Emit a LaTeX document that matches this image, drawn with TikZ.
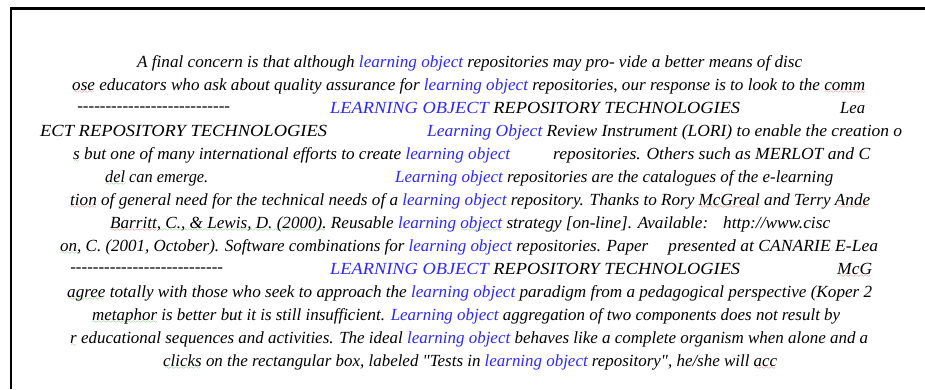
\documentclass[tikz,border=0pt]{standalone}
\usepackage{fontspec}
\setmainfont{Liberation Serif}[Ligatures=TeXOff]
\definecolor{lo}{RGB}{45,40,240}
\definecolor{spellred}{RGB}{225,60,60}
\definecolor{spellgrn}{RGB}{70,165,70}
\newcommand\lo[1]{\textcolor{lo}{#1}}
\font\sqfont=lasy6
\newcommand\sq[2]{\setbox0\hbox{#2}\rlap{\color{#1}\lower3.5pt\hbox to\wd0{\cleaders\hbox{\sqfont\char58}\hfil}}\box0\relax}
\newcommand\redsq[1]{\sq{spellred}{#1}}
\newcommand\grnsq[1]{\sq{spellgrn}{#1}}
\newcommand\hyrule[1]{\hbox to #1pt{\cleaders\hbox{-}\hfil}}
% stretch a text run to the width it has in the screenshot
\newcommand\fit[2]{\setbox1\hbox{#2}\pgfmathsetmacro\fr{#1/\wd1}\scalebox{\fr}[1]{\box1}}

\begin{document}
\begin{tikzpicture}[x=1pt,y=-1pt,
  txt/.style={anchor=base west,inner sep=0pt,font=\fontsize{17}{20}\selectfont\itshape}]
\useasboundingbox (0,0) rectangle (925,389);
\draw[line width=2.6pt] (11,389) -- (11,8.5) -- (925,8.5);
% concordance lines
\node[txt] (l1) at (137,67) {\fit{665}{A final concern is that although \lo{learning object} repositories may pro- vide a better means of disc}};
\node[txt] (l2) at (72,90) {\fit{793}{\redsq{ose} educators who ask about quality assurance for \lo{learning object} repositories, our response is to look to the \redsq{comm}}};
\node[txt] (l3a) at (75,111) {\hyrule{157}};
\node[txt] (l3b) at (330,113) {\fit{410}{\lo{LEARNING OBJECT} REPOSITORY TECHNOLOGIES}};
\node[txt] (l3c) at (840,113) {\fit{25}{Lea}};
\node[txt] (l4a) at (40,136) {\fit{287}{ECT REPOSITORY TECHNOLOGIES}};
\node[txt] (l4b) at (427,136) {\fit{475}{\lo{Learning Object} Review Instrument (LORI) to enable the creation o}};
\node[txt] (l5a) at (73,159) {\fit{437}{\grnsq{s} but one of many international efforts to create \lo{learning object}}};
\node[txt] (l5b) at (553,159) {\fit{317}{repositories. Others such as MERLOT and C}};
\node[txt] (l6a) at (105,182) {\fit{103}{\grnsq{del} can emerge.}};
\node[txt] (l6b) at (395,182) {\fit{438}{\lo{Learning object} repositories are the catalogues of the e-learning}};
\node[txt] (l7) at (70,205) {\fit{800}{\redsq{tion} of general need for the technical needs of a \lo{learning object} repository. Thanks to Rory \redsq{McGreal} and Terry \redsq{Ande}}};
\node[txt] (l8a) at (110,228) {\fit{598}{\redsq{Barritt}\grnsq{, C., \& Lewis, D. (2000).} Reusable \lo{learning \grnsq{object}} strategy [on-line]. Available:}};
\node[txt] (l8b) at (723,228) {\fit{107}{http://www.cisc}};
\node[txt] (l9a) at (60,251) {\fit{588}{\grnsq{on,} C. (2001, October). Software combinations for \lo{learning object} repositories. Paper}};
\node[txt] (l9b) at (668,251) {\fit{210}{presented at CANARIE E-Lea}};
\node[txt] (l10a) at (70,272) {\hyrule{153}};
\node[txt] (l10b) at (330,274) {\fit{410}{\lo{LEARNING OBJECT} REPOSITORY TECHNOLOGIES}};
\node[txt] (l10c) at (837,274) {\fit{35}{\redsq{McG}}};
\node[txt] (l11) at (67,297) {\fit{805}{\grnsq{agree} totally with those who seek to approach the \lo{learning object} paradigm from a pedagogical perspective (Koper 2}};
\node[txt] (l12) at (92,320) {\fit{748}{\grnsq{metaphor} is better but it is still insufficient. \lo{Learning object} aggregation of two components does not result by}};
\node[txt] (l13) at (70,343) {\fit{798}{\grnsq{r} educational sequences and activities. The ideal \lo{learning object} behaves like a complete organism when alone and a}};
\node[txt] (l14) at (163,366) {\fit{614}{\grnsq{clicks} on the rectangular box, labeled "Tests in \lo{learning object} repository", he/she will \redsq{acc}}};
\end{tikzpicture}
\end{document}
